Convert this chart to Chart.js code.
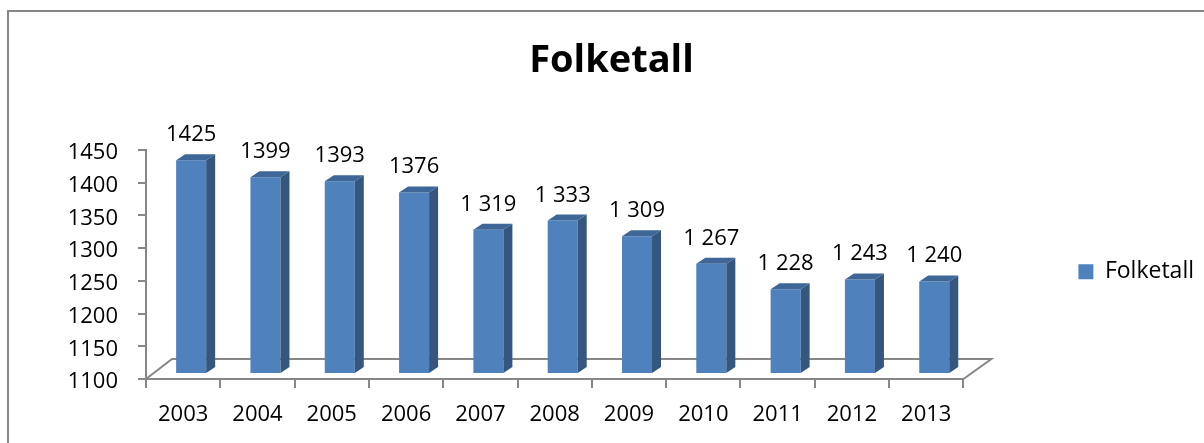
<!DOCTYPE html>
<html>
<head>
<meta charset="utf-8">
<script src="https://cdn.jsdelivr.net/npm/chart.js@4.4.1/dist/chart.umd.min.js"></script>
<style>
  html, body { margin: 0; padding: 0; background: #fff; overflow: hidden; }
  #wrap { position: relative; width: 1204px; height: 443px; overflow: hidden; }
  #frame { position: absolute; left: 7px; top: 10px; width: 2000px; height: 2000px;
           border-left: 2px solid #878787; border-top: 2px solid #878787; }
  canvas { position: absolute; left: 0; top: 0; }
</style>
</head>
<body>
<div id="wrap">
  <div id="frame"></div>
  <canvas id="c" width="1204" height="443"></canvas>
</div>
<script>
// ---- data ----
const chartTitle = 'Folketall';
const seriesName = 'Folketall';
const years = ['2003', '2004', '2005', '2006', '2007', '2008', '2009', '2010', '2011', '2012', '2013'];
const values = [1425, 1399, 1393, 1376, 1319, 1333, 1309, 1267, 1228, 1243, 1240];
const valueLabels = ['1425', '1399', '1393', '1376', '1 319', '1 333', '1 309', '1 267', '1 228', '1 243', '1 240'];
const yMin = 1100;
const yMax = 1450;
const yStep = 50;

// ---- style ----
const FONT = 'Open Sans';
const frontColor = '#4f81bd';
const sideColor = '#34567f';
const topColor = '#3e6696';
const axisColor = '#878787';
const SHIFT_X = 8, SHIFT_Y = -6;     // bar placement inside the floor depth
const DEPTH_X = 9, DEPTH_Y = -6;     // bar depth
const FLOOR_X = 26, FLOOR_Y = -20;   // floor depth

const bar3d = {
  id: 'bar3d',
  beforeDatasetsDraw(chart) {
    const { ctx, chartArea: a } = chart;
    ctx.save();
    ctx.strokeStyle = axisColor;
    ctx.lineWidth = 2;
    ctx.beginPath();
    ctx.moveTo(a.left, a.bottom);
    ctx.lineTo(a.left + FLOOR_X, a.bottom + FLOOR_Y);
    ctx.lineTo(a.right + FLOOR_X + 2, a.bottom + FLOOR_Y);
    ctx.lineTo(a.right, a.bottom);
    ctx.stroke();
    ctx.restore();
    ctx.save();
    ctx.translate(SHIFT_X, SHIFT_Y);
  },
  afterDatasetsDraw(chart) {
    const { ctx, chartArea: a } = chart;
    const meta = chart.getDatasetMeta(0);
    meta.data.forEach(el => {
      const p = el.getProps(['x', 'y', 'base', 'width'], true);
      const x = p.x, y = p.y, width = p.width;
      const base = Math.min(p.base, a.bottom);
      const l = x - width / 2, r = x + width / 2;
      ctx.fillStyle = sideColor;
      ctx.beginPath();
      ctx.moveTo(r, y);
      ctx.lineTo(r + DEPTH_X, y + DEPTH_Y);
      ctx.lineTo(r + DEPTH_X, base + DEPTH_Y);
      ctx.lineTo(r, base);
      ctx.closePath();
      ctx.fill();
      ctx.fillStyle = topColor;
      ctx.beginPath();
      ctx.moveTo(l, y);
      ctx.lineTo(r, y);
      ctx.lineTo(r + DEPTH_X, y + DEPTH_Y);
      ctx.lineTo(l + DEPTH_X, y + DEPTH_Y);
      ctx.closePath();
      ctx.fill();
    });
    ctx.restore();
    ctx.save();
    ctx.font = '22px "' + FONT + '"';
    ctx.fillStyle = '#000';
    ctx.textAlign = 'center';
    ctx.textBaseline = 'alphabetic';
    meta.data.forEach((el, i) => {
      ctx.fillText(valueLabels[i], el.x + SHIFT_X, el.y + SHIFT_Y - 19);
    });
    ctx.restore();
  }
};

function build() {
  new Chart(document.getElementById('c'), {
    type: 'bar',
    data: {
      labels: years,
      datasets: [{
        label: seriesName,
        data: values,
        backgroundColor: frontColor,
        borderWidth: 0,
        barPercentage: 0.404,
        categoryPercentage: 1.0
      }]
    },
    options: {
      responsive: false,
      animation: false,
      devicePixelRatio: 1,
      layout: { padding: { left: 19, right: 0, top: 0, bottom: 0 } },
      scales: {
        x: {
          grid: { display: true, drawOnChartArea: false, drawTicks: true, tickLength: 9,
                  color: axisColor, lineWidth: 2, offset: true },
          border: { display: true, color: axisColor, width: 2 },
          ticks: { color: '#000', font: { family: FONT, size: 22 }, padding: 14, maxRotation: 0, autoSkip: false },
          afterFit(scale) { scale.height = 64; }
        },
        y: {
          min: yMin,
          max: yMax,
          grid: { display: true, drawOnChartArea: false, drawTicks: true, tickLength: 8,
                  color: axisColor, lineWidth: 2 },
          border: { display: true, color: axisColor, width: 2 },
          ticks: { stepSize: yStep, color: '#000', font: { family: FONT, size: 22 }, padding: 20,
                   labelOffset: 3, callback: v => String(v) },
          afterFit(scale) { scale.width = 127; }
        }
      },
      plugins: {
        title: {
          display: true,
          text: chartTitle,
          color: '#000',
          font: { family: FONT, size: 38, weight: 'bold', lineHeight: 1.2 },
          padding: { top: 38, bottom: 66.4 }
        },
        legend: {
          display: true,
          position: 'right',
          fullSize: false,
          maxWidth: 241,
          labels: { boxWidth: 15, boxHeight: 15, padding: 115, color: '#000',
                    font: { family: FONT, size: 23 } },
          title: { display: true, text: '', padding: 0, font: { size: 12, lineHeight: 1.2 } }
        },
        tooltip: { enabled: false }
      }
    },
    plugins: [bar3d]
  });
}

Promise.all([
  document.fonts.load('22px "Open Sans"'),
  document.fonts.load('bold 38px "Open Sans"')
]).then(build, build);
</script>
</body>
</html>
